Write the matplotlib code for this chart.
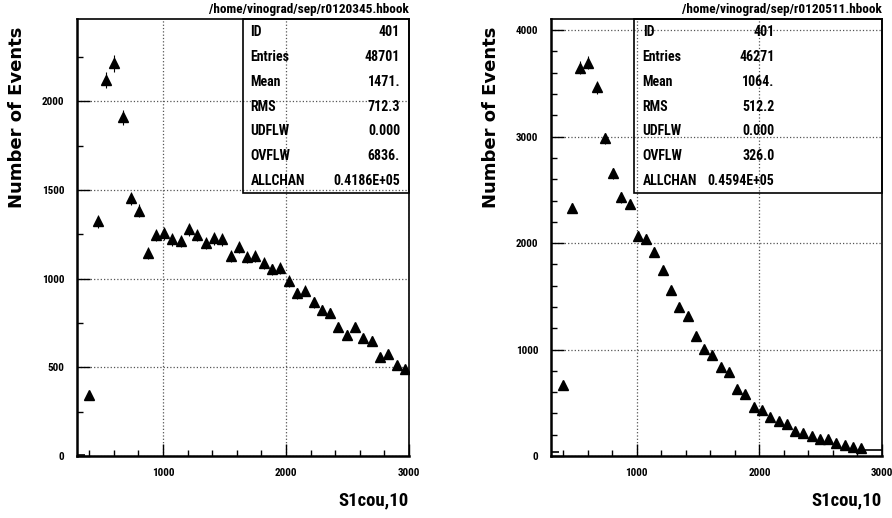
import numpy as np
import matplotlib.pyplot as plt
from matplotlib.patches import Rectangle
from matplotlib.ticker import MultipleLocator

NARROW = ['Roboto Condensed', 'Liberation Sans', 'DejaVu Sans']
WIDE = ['DejaVu Sans']

# 40 bins from 300 to 3000
edges = np.linspace(300, 3000, 41)
centers = (edges[:-1] + edges[1:]) / 2

# left histogram (r0120345), bins 1..39 drawn as triangles, bin 0 as a dash
left_counts = [344, 1325, 2120, 2215, 1910, 1453, 1383, 1145, 1246, 1256,
               1222, 1214, 1278, 1246, 1200, 1228, 1222, 1130, 1180, 1121,
               1130, 1087, 1053, 1062, 987, 917, 932, 867, 823, 808,
               726, 682, 726, 664, 650, 557, 573, 513, 489]
left_dash_bins = [0]
left_dash_vals = [5]

# right histogram (r0120511), bins 1..37 triangles, bins 0, 38, 39 dashes
right_counts = [667, 2330, 3646, 3693, 3462, 2983, 2654, 2429, 2366, 2069,
                2040, 1918, 1746, 1559, 1402, 1317, 1130, 1002, 948, 839,
                792, 626, 579, 463, 432, 369, 329, 298, 235, 213,
                191, 157, 157, 119, 103, 88, 72]
right_dash_bins = [0, 38, 39]
right_dash_vals = [40, 55, 55]

left_stats = [("ID", "401"), ("Entries", "48701"), ("Mean", "1471."),
              ("RMS", "712.3"), ("UDFLW", "0.000"), ("OVFLW", "6836."),
              ("ALLCHAN", "0.4186E+05")]
right_stats = [("ID", "401"), ("Entries", "46271"), ("Mean", "1064."),
               ("RMS", "512.2"), ("UDFLW", "0.000"), ("OVFLW", "326.0"),
               ("ALLCHAN", "0.4594E+05")]


def draw_panel(ax, counts, dash_bins, dash_vals, stats, fname, ymax,
               ymajor, yminor, box_x, label_x, value_x):
    x = centers[1:1 + len(counts)]
    y = np.array(counts, dtype=float)
    ax.errorbar(x, y, yerr=np.sqrt(y), fmt='^', ms=6.5, color='k',
                elinewidth=0.8, capsize=0, zorder=3)
    for b, v in zip(dash_bins, dash_vals):
        ax.hlines(v, edges[b], edges[b + 1], color='k', lw=1.2, zorder=3)

    ax.set_xlim(300, 3000)
    ax.set_ylim(0, ymax)
    ax.xaxis.set_major_locator(MultipleLocator(1000))
    ax.xaxis.set_minor_locator(MultipleLocator(200))
    ax.yaxis.set_major_locator(MultipleLocator(ymajor))
    ax.yaxis.set_minor_locator(MultipleLocator(yminor))
    ax.tick_params(which='major', direction='in', length=9, width=1,
                   labelsize=8, pad=9)
    ax.tick_params(which='minor', direction='in', length=4, width=1)
    for lab in ax.get_xticklabels() + ax.get_yticklabels():
        lab.set_family(NARROW)
        lab.set_fontweight('bold')
    ax.grid(True, which='major', linestyle=':', color='#555555', lw=0.9)
    ax.set_axisbelow(True)
    ax.spines['left'].set_linewidth(1.8)
    ax.spines['bottom'].set_linewidth(1.8)
    ax.spines['top'].set_linewidth(1.2)
    ax.spines['right'].set_linewidth(1.2)

    ax.text(1.0, 1.008, fname, transform=ax.transAxes, ha='right',
            va='bottom', fontsize=9.5, fontweight='bold', family=NARROW)
    ax.text(-0.18, 0.776, "Number of Events", transform=ax.transAxes,
            rotation=90, ha='center', va='center', fontsize=13,
            fontweight='bold', family=WIDE)
    ax.text(1.0, -0.112, "S1cou,10", transform=ax.transAxes, ha='right',
            va='baseline', fontsize=13.5, fontweight='bold', family=NARROW)

    ax.add_patch(Rectangle((box_x, 0.601), 1 - box_x, 0.399,
                           transform=ax.transAxes, fill=False, lw=1.2,
                           color='k', clip_on=False, zorder=4))
    for i, (k, v) in enumerate(stats):
        yy = 0.970 - i * 0.0568
        ax.text(label_x, yy, k, transform=ax.transAxes, ha='left',
                va='center', fontsize=10, fontweight='bold', family=NARROW)
        ax.text(value_x, yy, v, transform=ax.transAxes, ha='right',
                va='center', fontsize=10, fontweight='bold', family=NARROW)


fig = plt.figure(figsize=(8.92, 5.18), dpi=100)
ax1 = fig.add_axes([0.0863, 0.1197, 0.3722, 0.8436])
ax2 = fig.add_axes([0.6177, 0.1197, 0.3711, 0.8436])

draw_panel(ax1, left_counts, left_dash_bins, left_dash_vals, left_stats,
           "/home/vinograd/sep/r0120345.hbook", 2465, 500, 250,
           0.499, 0.523, 0.973)
draw_panel(ax2, right_counts, right_dash_bins, right_dash_vals, right_stats,
           "/home/vinograd/sep/r0120511.hbook", 4105, 1000, 200,
           0.252, 0.277, 0.675)

fig.savefig("out.png", dpi=100)
